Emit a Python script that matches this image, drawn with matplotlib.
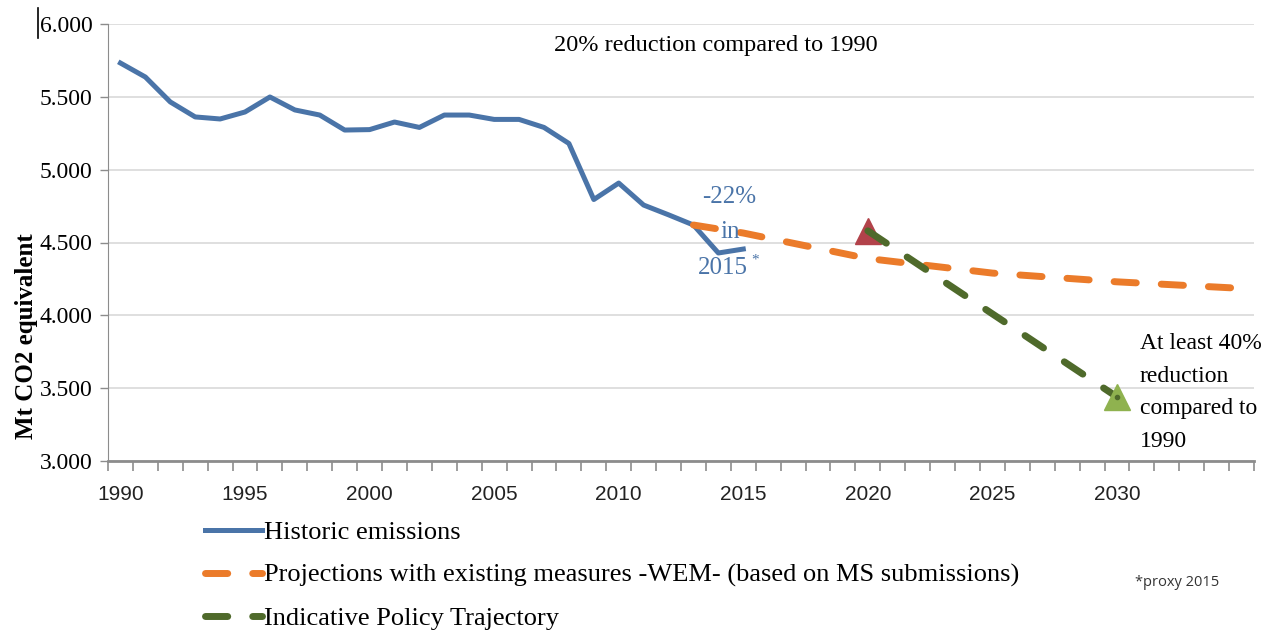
import matplotlib
matplotlib.use("Agg")
import matplotlib.pyplot as plt
from matplotlib.lines import Line2D
import numpy as np

# historic emissions (Mt CO2 eq), 1990-2015
hist_years = list(range(1990, 2016))
hist_vals = [5732, 5636, 5465, 5362, 5348, 5396, 5499, 5410, 5375, 5272,
             5275, 5327, 5290, 5375, 5375, 5345, 5345, 5290, 5180, 4795,
             4908, 4757, 4690, 4620, 4428, 4455]

# WEM projections
wem_years = [2013, 2015, 2020, 2025, 2030, 2035]
wem_vals = [4620, 4565, 4390, 4290, 4230, 4185]

# indicative policy trajectory
ipt_years = [2020, 2030]
ipt_vals = [4580, 3440]

target_2020 = (2020, 4580)
target_2030 = (2030, 3440)

yticks = [3000, 3500, 4000, 4500, 5000, 5500, 6000]
ytick_labels = ["3.000", "3.500", "4.000", "4.500", "5.000", "5.500", "6.000"]
xtick_years = [1990, 1995, 2000, 2005, 2010, 2015, 2020, 2025, 2030]

blue = "#4A74A8"
orange = "#EB7B2A"
dgreen = "#4F6A2B"
lgreen = "#8FB24F"
red = "#B2424A"

serif = ["Liberation Serif", "DejaVu Serif"]

fig = plt.figure(figsize=(12.68, 6.35), dpi=100)
ax = fig.add_axes([108 / 1268, 1 - 461 / 635, (1254 - 108) / 1268, (461 - 24) / 635])

ax.plot(hist_years, hist_vals, color=blue, lw=3.6, solid_joinstyle="round",
        label="Historic emissions", zorder=3)
ax.plot(wem_years, wem_vals, color=orange, lw=5, dashes=(3.2, 3.6),
        dash_capstyle="round",
        label="Projections with existing measures -WEM- (based on MS submissions)", zorder=3)
ax.plot(*target_2020, marker="^", ms=19, color=red, ls="none", zorder=4)
ax.plot(ipt_years, ipt_vals, color=dgreen, lw=5, dashes=(3.2, 3.6),
        dash_capstyle="round", label="Indicative Policy Trajectory", zorder=5)
ax.plot(*target_2030, marker="^", ms=19, color=lgreen, ls="none", zorder=6)
ax.plot(*target_2030, marker="o", ms=3, color=dgreen, ls="none", zorder=7)

ax.set_xlim(1989.5, 2035.5)
ax.set_ylim(3000, 6000)
ax.set_yticks(yticks)
ax.set_yticklabels(ytick_labels, family=serif, fontsize=17)
ax.set_xticks(xtick_years)
ax.set_xticklabels([str(y) for y in xtick_years], family="Liberation Sans", fontsize=15,
                   color="#222222")
ax.set_xticks(np.arange(1989.5, 2036, 1), minor=True)
ax.tick_params(axis="x", which="major", length=0, pad=17)
ax.tick_params(axis="x", which="minor", length=7, width=1.2, color="#8c8c8c", direction="out")
ax.tick_params(axis="y", length=6, width=1, color="#8c8c8c", pad=5)

ax.grid(axis="y", color="#d9d9d9", lw=1.2)
ax.set_axisbelow(True)
for s in ["top", "right"]:
    ax.spines[s].set_visible(False)
ax.spines["left"].set_color("#8c8c8c")
ax.spines["bottom"].set_color("#8c8c8c")
ax.spines["bottom"].set_linewidth(2)

fig.text(27 / 1268, 1 - 336 / 635, "Mt CO2 equivalent", family=serif, fontsize=18,
         fontweight="bold", rotation=90, ha="center", va="center")

# annotations
fig.text(716 / 1268, 1 - 45 / 635, "20% reduction compared to 1990", family=serif,
         fontsize=17.5, ha="center", va="center")
for txt, xx, yy in [("-22%", 729, 197), ("in", 730, 232), ("2015", 723, 268)]:
    fig.text(xx / 1268, 1 - yy / 635, txt, family=serif, fontsize=18, color=blue,
             ha="center", va="center")
fig.text(755 / 1268, 1 - 260 / 635, "*", family=serif, fontsize=11, color=blue,
         ha="center", va="center")
fig.text(1140 / 1268, 1 - 333 / 635, "At least 40%\nreduction\ncompared to\n1990",
         family=serif, fontsize=17, ha="left", va="top", linespacing=1.72)
fig.text(1135 / 1268, 1 - 582 / 635, "*proxy 2015", family="Open Sans", fontsize=10.5,
         color="#333333", ha="left", va="center")

# cursor artefact near the top tick label
fig.add_artist(Line2D([38 / 1268, 38 / 1268], [1 - 8 / 635, 1 - 38 / 635], color="black", lw=1.2))

ax.legend(loc="upper left", bbox_to_anchor=(205 / 1268, 1 - 521 / 635),
          bbox_transform=fig.transFigure, frameon=False,
          prop={"family": serif, "size": 19}, handlelength=2.15, handletextpad=0.1,
          labelspacing=0.72, borderpad=0, borderaxespad=0)

fig.savefig("out.png", dpi=100)
